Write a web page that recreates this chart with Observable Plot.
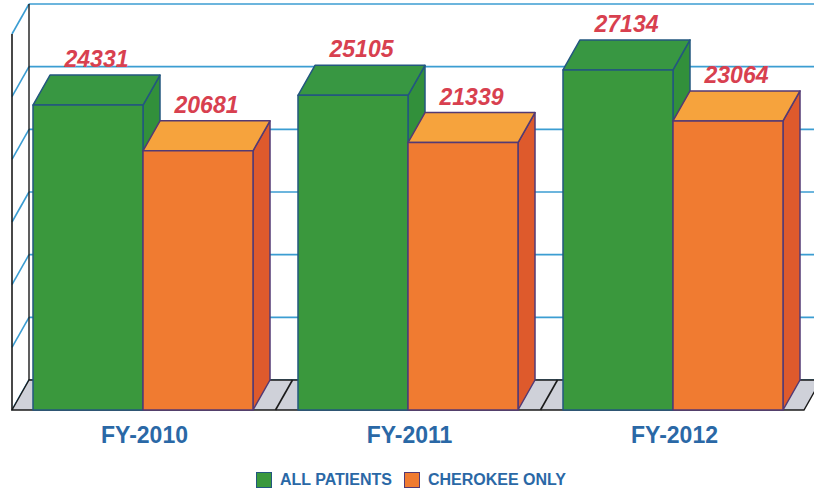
<!DOCTYPE html>
<html>
<head>
<meta charset="utf-8">
<script src="https://cdn.jsdelivr.net/npm/d3@7"></script>
<script src="https://cdn.jsdelivr.net/npm/@observablehq/plot@0.6"></script>
<style>
  body { margin: 0; background: #ffffff; font-family: "Liberation Sans", Arial, sans-serif; }
  #chart svg { display: block; }
  #legend { height: 36px; display: flex; justify-content: center; align-items: center; padding-left: 8px; }
  .item { display: flex; align-items: center; margin: 0 6px; }
  .sw { width: 14px; height: 14px; border: 1.5px solid #3b4a7a; margin-right: 8px; }
  .lab { font: bold 16px "Liberation Sans", Arial, sans-serif; color: #2a68a6; }
</style>
</head>
<body>
<div id="chart"></div>
<div id="legend"></div>
<script>
// ---- data ----
const years = ["FY-2010", "FY-2011", "FY-2012"];
const seriesNames = ["ALL PATIENTS", "CHEROKEE ONLY"];
const allPatients = [24331, 25105, 27134];
const cherokeeOnly = [20681, 21339, 23064];
const yTicks = [0, 5000, 10000, 15000, 20000, 25000, 30000];

// ---- styling ----
const faces = {
  "ALL PATIENTS":  {front: "#3a983d", top: "#389742", side: "#32903b", stroke: "#23577f", legend: "#3a983d"},
  "CHEROKEE ONLY": {front: "#f07b31", top: "#f6a33d", side: "#de5a2c", stroke: "#533a74", legend: "#f07b31"}
};
const DX = 17, DY = 30;       // 3D depth offset in pixels (back plane -> front plane)
const labelColor = "#d8404f";
const axisColor = "#2a68a6";

const rows = years.flatMap((year, i) => [
  {year, series: seriesNames[0], value: allPatients[i], k: 0},
  {year, series: seriesNames[1], value: cherokeeOnly[i], k: 1}
]);

function bw(x) { return x.bandwidth ? x.bandwidth() : 0; }

// walls, grid and floor, drawn from the scales
function wallRender(index, scales) {
  const x = scales.x, y = scales.y;
  const [xl, xr] = x.range();
  const y0 = y(0), yTop = y(d3.max(yTicks));
  const g = d3.create("svg:g");
  g.append("path")
    .attr("d", `M${xl},${yTop + DY}L${xl + DX},${yTop}L${xl + DX},${y0}L${xl},${y0 + DY}Z`)
    .attr("fill", "#ffffff");
  for (const i of index) {
    const t = yTicks[i];
    g.append("line").attr("x1", xl + DX).attr("x2", xr + DX + 40)
      .attr("y1", y(t)).attr("y2", y(t))
      .attr("stroke", "#3b9dd2").attr("stroke-width", 1.6);
    g.append("line").attr("x1", xl).attr("x2", xl + DX)
      .attr("y1", y(t) + DY).attr("y2", y(t))
      .attr("stroke", "#3b9dd2").attr("stroke-width", 1.6);
  }
  g.append("line").attr("x1", xl).attr("x2", xl).attr("y1", yTop + DY).attr("y2", y0 + DY)
    .attr("stroke", "#1a1a1a").attr("stroke-width", 1.6);
  g.append("line").attr("x1", xl + DX).attr("x2", xl + DX).attr("y1", yTop).attr("y2", y0)
    .attr("stroke", "#1a1a1a").attr("stroke-width", 1.4);
  g.append("path")
    .attr("d", `M${xl},${y0 + DY}L${xl + DX},${y0}L${xr + DX},${y0}L${xr},${y0 + DY}Z`)
    .attr("fill", "#cfd1d9").attr("stroke", "#1a1a1a").attr("stroke-width", 1.4);
  const w = bw(x), step = x.step ? x.step() : w;
  years.forEach((yr, i) => {
    if (i === 0) return;
    const bx = x(yr) - (step - w) / 2;
    g.append("line").attr("x1", bx).attr("x2", bx + DX).attr("y1", y0 + DY).attr("y2", y0)
      .attr("stroke", "#1a1a1a").attr("stroke-width", 1.6);
  });
  return g.node();
}

// 3D bars + value labels
function cuboidRender(index, scales) {
  const x = scales.x, y = scales.y;
  const half = bw(x) / 2;
  const y0 = y(0);
  const g = d3.create("svg:g");
  for (const i of index) {
    const d = rows[i];
    const c = faces[d.series];
    const fx0 = x(d.year) + d.k * half, fx1 = fx0 + half;
    const yt = y(d.value);
    const bar = g.append("g").attr("stroke", c.stroke).attr("stroke-width", 1.5).attr("stroke-linejoin", "round");
    bar.append("path")
      .attr("d", `M${fx1},${yt + DY}L${fx1 + DX},${yt}L${fx1 + DX},${y0}L${fx1},${y0 + DY}Z`)
      .attr("fill", c.side);
    bar.append("path")
      .attr("d", `M${fx0},${yt + DY}L${fx1},${yt + DY}L${fx1 + DX},${yt}L${fx0 + DX},${yt}Z`)
      .attr("fill", c.top);
    bar.append("rect")
      .attr("x", fx0).attr("y", yt + DY).attr("width", half).attr("height", y0 - yt)
      .attr("fill", c.front);
  }
  for (const i of index) {
    const d = rows[i];
    const fx0 = x(d.year) + d.k * half, fx1 = fx0 + half;
    g.append("text")
      .attr("x", (fx0 + fx1 + DX) / 2)
      .attr("y", y(d.value) - 8)
      .attr("text-anchor", "middle")
      .attr("fill", labelColor)
      .attr("font-size", 23)
      .attr("font-weight", "bold")
      .attr("font-style", "italic")
      .attr("font-family", "'Liberation Sans', Arial, sans-serif")
      .text(String(d.value));
  }
  return g.node();
}

const chart = Plot.plot({
  width: 814,
  height: 462,
  marginTop: 4,
  marginBottom: 82,
  marginLeft: 12,
  marginRight: 10,
  style: {fontFamily: "'Liberation Sans', Arial, sans-serif", background: "#ffffff"},
  x: {domain: years, paddingInner: 45 / 265, paddingOuter: 21 / 265, align: 0.5},
  y: {domain: [0, 30000], axis: null},
  marks: [
    Plot.ruleY(yTicks, {y: d => d, render: wallRender}),
    Plot.barY(rows, {x: "year", y: "value", render: cuboidRender}),
    Plot.axisX({tickSize: 0, tickPadding: 46, fontSize: 23, fontWeight: "bold", fill: axisColor, label: null, dx: 1})
  ]
});
document.getElementById("chart").append(chart);

// legend
const legend = d3.select("#legend");
seriesNames.forEach(s => {
  const it = legend.append("div").attr("class", "item");
  it.append("div").attr("class", "sw").style("background", faces[s].legend).style("border-color", faces[s].stroke);
  it.append("span").attr("class", "lab").text(s);
});
</script>
</body>
</html>
